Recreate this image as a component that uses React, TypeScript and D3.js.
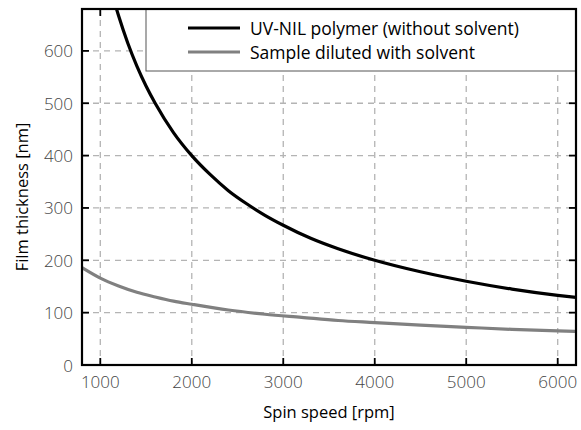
import React, { useEffect, useRef } from 'react'
import * as d3 from 'd3'

// spin speed [rpm] -> film thickness [nm]
const polymerSpeed = [1100, 1200, 1300, 1400, 1500, 1600, 1800, 2000, 2200, 2400, 2600, 2800, 3000, 3300, 3600, 4000, 4500, 5000, 5500, 6000, 6200]
const polymerThickness = [727, 667, 615, 571, 533, 500, 444, 400, 364, 333, 308, 286, 267, 242, 222, 200, 178, 160, 145, 133, 129]

const dilutedSpeed = [800, 1000, 1200, 1400, 1600, 1800, 2000, 2400, 2800, 3200, 3600, 4000, 4500, 5000, 5500, 6000, 6200]
const dilutedThickness = [186, 166, 151, 139, 130, 122, 116, 105, 97, 91, 85, 81, 76, 72, 68, 65, 64]

const xTicks = [1000, 2000, 3000, 4000, 5000, 6000]
const yTicks = [0, 100, 200, 300, 400, 500, 600]

const seriesNames = ['UV-NIL polymer (without solvent)', 'Sample diluted with solvent']
const seriesColors = ['#000000', '#808080']

const App = () => {
  const svgRef = useRef<SVGSVGElement>(null)
  const width = 581
  const height = 430
  const margin = { top: 9, right: 5, bottom: 65, left: 82 }

  useEffect(() => {
    const svg = d3.select(svgRef.current)
    svg.selectAll('*').remove()

    const x = d3.scaleLinear().domain([800, 6200]).range([margin.left, width - margin.right])
    const y = d3.scaleLinear().domain([0, 680]).range([height - margin.bottom, margin.top])
    const font = "'Open Sans', 'DejaVu Sans', sans-serif"

    svg.append('defs').append('clipPath').attr('id', 'plot-clip')
      .append('rect')
      .attr('x', x(800)).attr('y', y(680))
      .attr('width', x(6200) - x(800)).attr('height', y(0) - y(680))

    // dashed grid
    const grid = svg.append('g')
    grid.selectAll('line.gx')
      .data(xTicks)
      .join('line')
        .attr('x1', d => x(d)).attr('x2', d => x(d))
        .attr('y1', y(680)).attr('y2', y(0))
    grid.selectAll('line.gy')
      .data(yTicks.slice(1))
      .join('line')
        .attr('x1', x(800)).attr('x2', x(6200))
        .attr('y1', d => y(d)).attr('y2', d => y(d))
    grid.selectAll('line')
      .attr('stroke', '#b4b4b4')
      .attr('stroke-width', 1.3)
      .attr('stroke-dasharray', '6,5')

    // curves
    const line = d3.line<[number, number]>()
      .x(d => x(d[0]))
      .y(d => y(d[1]))
      .curve(d3.curveMonotoneX)

    const series = [
      d3.zip(polymerSpeed, polymerThickness) as [number, number][],
      d3.zip(dilutedSpeed, dilutedThickness) as [number, number][],
    ]

    svg.append('g').attr('clip-path', 'url(#plot-clip)')
      .selectAll('path')
      .data(series)
      .join('path')
        .attr('d', d => line(d))
        .attr('fill', 'none')
        .attr('stroke', (d, i) => seriesColors[i])
        .attr('stroke-width', 3.2)

    // inward ticks on all four sides
    const tickLen = 7
    const ticks = svg.append('g').attr('stroke', '#000').attr('stroke-width', 1.8)
    xTicks.forEach(t => {
      ticks.append('line').attr('x1', x(t)).attr('x2', x(t)).attr('y1', y(0)).attr('y2', y(0) - tickLen)
      ticks.append('line').attr('x1', x(t)).attr('x2', x(t)).attr('y1', y(680)).attr('y2', y(680) + tickLen)
    })
    yTicks.forEach(t => {
      ticks.append('line').attr('x1', x(800)).attr('x2', x(800) + tickLen).attr('y1', y(t)).attr('y2', y(t))
      ticks.append('line').attr('x1', x(6200)).attr('x2', x(6200) - tickLen).attr('y1', y(t)).attr('y2', y(t))
    })

    // legend
    const legend = svg.append('g')
    const lx = 146
    legend.append('rect')
      .attr('x', lx).attr('y', y(680))
      .attr('width', x(6200) - lx).attr('height', 62)
      .attr('fill', '#fff')
      .attr('stroke', '#555')
      .attr('stroke-width', 1)
    seriesNames.forEach((name, i) => {
      const ly = 28 + i * 24
      legend.append('line')
        .attr('x1', 188).attr('x2', 240)
        .attr('y1', ly).attr('y2', ly)
        .attr('stroke', seriesColors[i])
        .attr('stroke-width', 3.2)
      legend.append('text')
        .text(name)
        .attr('x', 250).attr('y', ly)
        .attr('dominant-baseline', 'central')
        .attr('font-family', font)
        .attr('font-size', 17.5)
        .attr('fill', '#000')
    })

    // frame
    svg.append('rect')
      .attr('x', x(800)).attr('y', y(680))
      .attr('width', x(6200) - x(800)).attr('height', y(0) - y(680))
      .attr('fill', 'none')
      .attr('stroke', '#000')
      .attr('stroke-width', 2.2)

    // tick labels
    svg.append('g')
      .selectAll('text')
      .data(xTicks)
      .join('text')
        .text(d => d)
        .attr('x', d => x(d))
        .attr('y', y(0) + 23)
        .attr('text-anchor', 'middle')
        .attr('font-family', font)
        .attr('font-size', 17)
        .attr('font-weight', 300)
        .attr('fill', '#444')

    svg.append('g')
      .selectAll('text')
      .data(yTicks)
      .join('text')
        .text(d => d)
        .attr('x', x(800) - 9)
        .attr('y', d => y(d))
        .attr('dominant-baseline', 'central')
        .attr('text-anchor', 'end')
        .attr('font-family', font)
        .attr('font-size', 17)
        .attr('font-weight', 300)
        .attr('fill', '#444')

    // axis titles
    svg.append('text')
      .text('Spin speed [rpm]')
      .attr('x', (x(800) + x(6200)) / 2)
      .attr('y', 418)
      .attr('text-anchor', 'middle')
      .attr('font-family', font)
      .attr('font-size', 16.5)
      .attr('font-weight', 500)
      .attr('fill', '#000')

    svg.append('text')
      .text('Film thickness [nm]')
      .attr('transform', `translate(21,${(y(0) + y(680)) / 2 + 10}) rotate(-90)`)
      .attr('text-anchor', 'middle')
      .attr('dominant-baseline', 'central')
      .attr('font-family', font)
      .attr('font-size', 16.5)
      .attr('font-weight', 500)
      .attr('fill', '#000')
  }, [])

  return (
    <svg ref={svgRef} width={width} height={height}
      style={{ position: 'absolute', left: 0, top: 0, background: '#fff' }} />
  )
}

export default App
